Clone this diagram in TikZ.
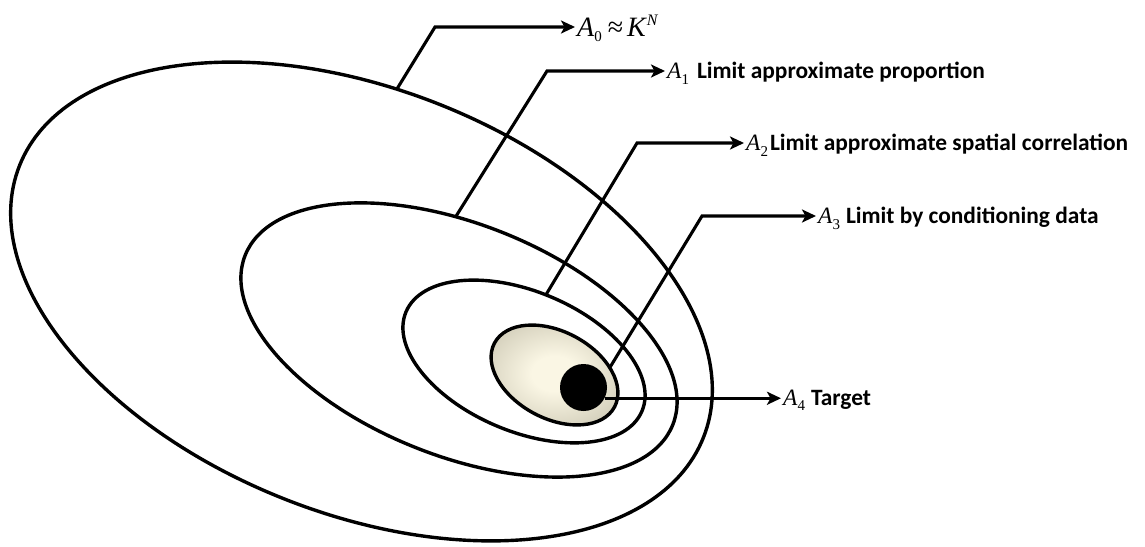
\documentclass[tikz,border=0pt]{standalone}
\usepackage{fontspec}
\setmainfont{Carlito}
\newfontfamily\tnr{Liberation Serif}
\usetikzlibrary{arrows.meta,calc,intersections}
\definecolor{eggin}{RGB}{250,246,228}
\definecolor{eggout}{RGB}{165,160,138}
\pgfdeclareradialshading{eggshade}{\pgfpoint{0bp}{0bp}}{color(0bp)=(eggin); color(8bp)=(eggin); color(50bp)=(eggout)}
\newcommand\Asub[1]{{\tnr\mdseries\itshape A}\raisebox{-5.5pt}{\tnr\mdseries\fontsize{15}{15}\selectfont #1}}
\tikzset{
  ring/.style={line width=3.4pt},
  leader/.style={line width=3.1pt, line join=miter},
  arr/.style={leader, -{Stealth[length=14pt,width=13pt,inset=3.5pt]}},
  lbl/.style={anchor=west, inner ysep=0pt, inner xsep=2pt, font=\fontsize{23.4}{28}\selectfont\bfseries, text height=15pt, text depth=0pt},
}
\begin{document}
\begin{tikzpicture}[x=1pt,y=-1pt]
\useasboundingbox (0,0) rectangle (1145,546);
% ellipse centres
\coordinate (c0) at (361.5,301.5);
\coordinate (c1) at (459,340);
\coordinate (c2) at (524,361.5);
\coordinate (c3) at (554.5,375);
% rings
\draw[ring, name path=e0, rotate around={-21.7:(c0)}] (c0) ellipse [x radius=368pt, y radius=212pt];
\draw[ring, name path=e1, rotate around={-21.6:(c1)}] (c1) ellipse [x radius=230pt, y radius=116pt];
\draw[ring, name path=e2, rotate around={-22.8:(c2)}] (c2) ellipse [x radius=128pt, y radius=70pt];
\shade[shading=eggshade, rotate around={-28:(c3)}] (c3) ellipse [x radius=68pt, y radius=43.5pt];
\draw[ring, name path=e3, rotate around={-28:(c3)}] (c3) ellipse [x radius=68pt, y radius=43.5pt];
% target
\node[circle, fill=black, minimum size=47pt, inner sep=0pt] (dot) at (583.5,387.5) {};
% corners and approximate start points
\coordinate (k0) at (435,27);   \coordinate (p0) at (400,84);
\coordinate (k1) at (547,71);   \coordinate (p1) at (458,213);
\coordinate (k2) at (637,143);  \coordinate (p2) at (547,293);
\coordinate (k3) at (702,216);  \coordinate (p3) at (612,364);
\path[name path=g0] (k0) -- ($(k0)!1.25!(p0)$);
\path[name path=g1] (k1) -- ($(k1)!1.15!(p1)$);
\path[name path=g2] (k2) -- ($(k2)!1.12!(p2)$);
\path[name path=g3] (k3) -- ($(k3)!1.08!(p3)$);
\path[name intersections={of=e0 and g0, by=s0}];
\path[name intersections={of=e1 and g1, by=s1}];
\path[name intersections={of=e2 and g2, by=s2}];
\path[name intersections={of=e3 and g3, by=s3}];
% labels
\node[lbl, font=\fontsize{28}{30}\selectfont, text height=18pt] (l0) at (575,27)
  {\Asub{0}\hspace{6pt}{\tnr ≈}\hspace{4pt}{\tnr\itshape K}\hspace{1pt}\raisebox{11pt}{\tnr\itshape\fontsize{16}{16}\selectfont N}};
\node[lbl] (l1) at (665,71) {\Asub{1}\hspace{8pt}Limit approximate proportion};
\node[lbl] (l2) at (744,143) {\Asub{2}\hspace{2pt}Limit approximate spatial correlation};
\node[lbl] (l3) at (816,216) {\Asub{3}\hspace{6pt}Limit by conditioning data};
\node[lbl] (l4) at (781,397.9) {\Asub{4}\hspace{6pt}Target};
% connectors
\draw[arr] (s0) -- (k0) -- (k0 -| l0.west);
\draw[arr] (s1) -- (k1) -- (k1 -| l1.west);
\draw[arr] (s2) -- (k2) -- (k2 -| l2.west);
\draw[arr] (s3) -- (k3) -- (k3 -| l3.west);
\draw[arr] (dot.-27) -- (dot.-27 -| l4.west);
\end{tikzpicture}
\end{document}
